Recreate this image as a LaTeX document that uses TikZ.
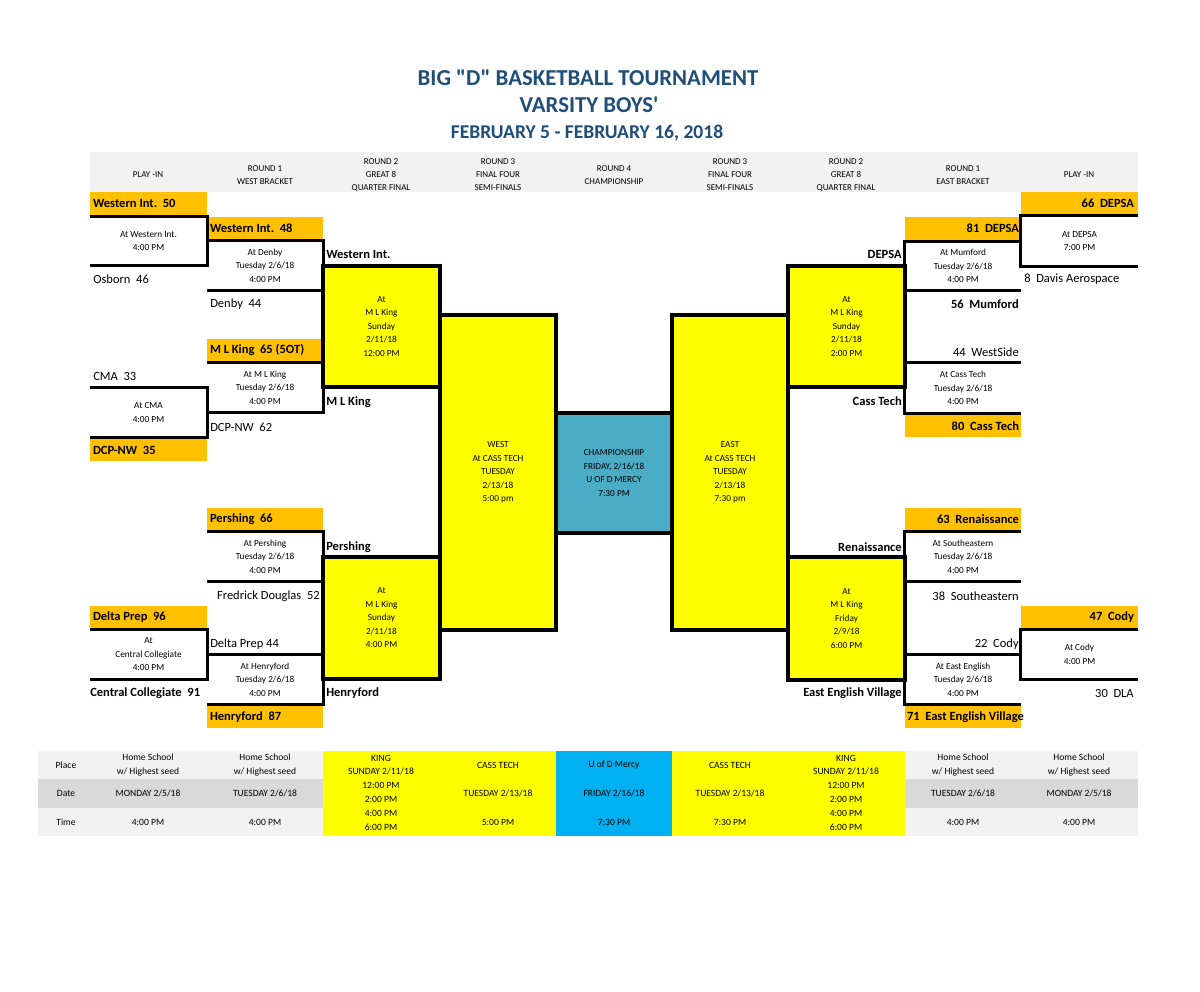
\documentclass[tikz,border=0pt]{standalone}
\usepackage{fontspec}
\setmainfont{Carlito}
\newfontfamily\plainfont{Carlito}
\usetikzlibrary{fit}
\definecolor{orng}{HTML}{FFC000}
\definecolor{ylw}{HTML}{FFFF00}
\definecolor{tealc}{HTML}{4BACC6}
\definecolor{sky}{HTML}{00B0F0}
\definecolor{ttl}{HTML}{1F4E79}
\definecolor{lgray}{HTML}{F2F2F2}
\definecolor{dgray}{HTML}{D9D9D9}
\tikzset{
  ttlone/.style={font=\plainfont\fontsize{16.2}{18}\selectfont\bfseries, text=ttl, inner sep=0pt},
  ttltwo/.style={font=\plainfont\fontsize{13.9}{15}\selectfont\bfseries, text=ttl, inner sep=0pt},
  hd/.style={font=\fontsize{6.4}{9.2}\selectfont, align=center, inner sep=0pt, yshift=-0.05cm},
  sm/.style={font=\fontsize{6.6}{9.6}\selectfont, align=center, inner sep=0pt},
  tb/.style={font=\fontsize{6.8}{9.8}\selectfont, align=center, inner sep=0pt},
  tm/.style={font=\fontsize{8.9}{10}\selectfont, inner sep=0pt},
  tmb/.style={font=\fontsize{8.9}{10}\selectfont\bfseries, inner sep=0pt},
  obox/.style={fill=orng, inner sep=0pt},
  brk/.style={line width=2.2pt},
  area/.style={inner sep=0pt},
  rbox/.style={inner sep=0pt, draw=black, line width=2.2pt},
  ybox/.style={rbox, fill=ylw},
  cell/.style={inner sep=0pt},
}
\begin{document}
\begin{tikzpicture}[x=0.025cm, y=-0.025cm]
\useasboundingbox[fill=white] (0,0) rectangle (1200,991);
% titles
\node[ttlone] (title1) at (588,78) {BIG "D" BASKETBALL TOURNAMENT};
\node[ttlone] (title2) at (589,105) {VARSITY BOYS'};
\node[ttltwo] (title3) at (587,133) {FEBRUARY 5 - FEBRUARY 16, 2018};
% header band
\node[fit={(90,152)(1138,192)}, cell, fill=lgray] (hdr) {};
\node[hd] (h1) at (148,173) {PLAY -IN};
\node[hd] (h2) at (265,173) {ROUND 1\\WEST BRACKET};
\node[hd] (h3) at (381,173) {ROUND 2\\GREAT 8\\QUARTER FINAL};
\node[hd] (h4) at (498,173) {ROUND 3\\FINAL FOUR\\SEMI-FINALS};
\node[hd] (h5) at (614,173) {ROUND 4\\CHAMPIONSHIP};
\node[hd] (h6) at (730,173) {ROUND 3\\FINAL FOUR\\SEMI-FINALS};
\node[hd] (h7) at (846,173) {ROUND 2\\GREAT 8\\QUARTER FINAL};
\node[hd] (h8) at (963,173) {ROUND 1\\EAST BRACKET};
\node[hd] (h9) at (1079,173) {PLAY -IN};

% ---------- orange score boxes ----------
\node[fit={(90,192)(207,215)}, obox] (lo1) {};
\node[tmb, anchor=west] (lo1t) at ([xshift=0.075cm]lo1.west) {Western Int.\ \ 50};
\node[fit={(207,217)(323,240)}, obox] (lo2) {};
\node[tmb, anchor=west] (lo2t) at ([xshift=0.075cm]lo2.west) {Western Int.\ \ 48};
\node[fit={(207,339)(323,361)}, obox] (lo3) {};
\node[tmb, anchor=west] (lo3t) at ([xshift=0.075cm]lo3.west) {M L King\ \ 65 (5OT)};
\node[fit={(90,439)(207,461)}, obox] (lo4) {};
\node[tmb, anchor=west] (lo4t) at ([xshift=0.075cm]lo4.west) {DCP-NW\ \ 35};
\node[fit={(207,508)(323,530)}, obox] (lo5) {};
\node[tmb, anchor=west] (lo5t) at ([xshift=0.075cm]lo5.west) {Pershing\ \ 66};
\node[fit={(90,606)(207,628)}, obox] (lo6) {};
\node[tmb, anchor=west] (lo6t) at ([xshift=0.075cm]lo6.west) {Delta Prep\ \ 96};
\node[fit={(207,706)(323,728)}, obox] (lo7) {};
\node[tmb, anchor=west] (lo7t) at ([xshift=0.075cm]lo7.west) {Henryford\ \ 87};

\node[fit={(1021,192)(1138,215)}, obox] (ro1) {};
\node[tmb, anchor=east] (ro1t) at ([xshift=-0.1cm]ro1.east) {66\ \ DEPSA};
\node[fit={(905,217)(1021,240)}, obox] (ro2) {};
\node[tmb, anchor=east] (ro2t) at ([xshift=-0.05cm]ro2.east) {81\ \ DEPSA};
\node[fit={(905,415)(1021,437)}, obox] (ro3) {};
\node[tmb, anchor=east] (ro3t) at ([xshift=-0.05cm]ro3.east) {80\ \ Cass Tech};
\node[fit={(905,508)(1021,530)}, obox] (ro4) {};
\node[tmb, anchor=east] (ro4t) at ([xshift=-0.05cm]ro4.east) {63\ \ Renaissance};
\node[fit={(1021,606)(1138,628)}, obox] (ro5) {};
\node[tmb, anchor=east] (ro5t) at ([xshift=-0.1cm]ro5.east) {47\ \ Cody};
\node[fit={(905,706)(1021,728)}, obox] (ro6) {};
\node[tmb, anchor=west] (ro6t) at ([xshift=0.05cm]ro6.west) {71\ \ East English Village};

% ---------- left brackets ----------
\node[fit={(90,217)(207,265)}, area] (lp1) {};
\draw[brk] (lp1.north west) -- (lp1.north east) -- (lp1.south east) -- (lp1.south west);
\node[sm] (lp1t) at (lp1.center) {At Western Int.\\4:00 PM};
\node[fit={(207,241)(323,290)}, area] (lb1) {};
\draw[brk] (lb1.north west) -- (lb1.north east) -- (lb1.south east) -- (lb1.south west);
\node[sm] (lb1t) at (lb1.center) {At Denby\\Tuesday 2/6/18\\4:00 PM};
\node[fit={(207,363)(323,412)}, area] (lb2) {};
\draw[brk] (lb2.north west) -- (lb2.north east) -- (lb2.south east) -- (lb2.south west);
\node[sm] (lb2t) at (lb2.center) {At M L King\\Tuesday 2/6/18\\4:00 PM};
\node[fit={(90,388)(207,437)}, area] (lp2) {};
\draw[brk] (lp2.north west) -- (lp2.north east) -- (lp2.south east) -- (lp2.south west);
\node[sm] (lp2t) at (lp2.center) {At CMA\\4:00 PM};
\node[fit={(207,532)(323,581)}, area] (lb3) {};
\draw[brk] (lb3.north west) -- (lb3.north east) -- (lb3.south east) -- (lb3.south west);
\node[sm] (lb3t) at (lb3.center) {At Pershing\\Tuesday 2/6/18\\4:00 PM};
\node[fit={(90,630)(207,679)}, area] (lp3) {};
\draw[brk] (lp3.north west) -- (lp3.north east) -- (lp3.south east) -- (lp3.south west);
\node[sm] (lp3t) at (lp3.center) {At\\Central Collegiate\\4:00 PM};
\node[fit={(207,655)(323,704)}, area] (lb4) {};
\draw[brk] (lb4.north west) -- (lb4.north east) -- (lb4.south east) -- (lb4.south west);
\node[sm] (lb4t) at (lb4.center) {At Henryford\\Tuesday 2/6/18\\4:00 PM};

% ---------- right brackets ----------
\node[fit={(1021,216)(1138,266)}, area] (rp1) {};
\draw[brk] (rp1.north east) -- (rp1.north west) -- (rp1.south west) -- (rp1.south east);
\node[sm] (rp1t) at (rp1.center) {At DEPSA\\7:00 PM};
\node[fit={(905,242)(1021,290)}, area] (rb1) {};
\draw[brk] (rb1.north east) -- (rb1.north west) -- (rb1.south west) -- (rb1.south east);
\node[sm] (rb1t) at (rb1.center) {At Mumford\\Tuesday 2/6/18\\4:00 PM};
\node[fit={(905,363)(1021,413)}, area] (rb2) {};
\draw[brk] (rb2.north east) -- (rb2.north west) -- (rb2.south west) -- (rb2.south east);
\node[sm] (rb2t) at (rb2.center) {At Cass Tech\\Tuesday 2/6/18\\4:00 PM};
\node[fit={(905,532)(1021,581)}, area] (rb3) {};
\draw[brk] (rb3.north east) -- (rb3.north west) -- (rb3.south west) -- (rb3.south east);
\node[sm] (rb3t) at (rb3.center) {At Southeastern\\Tuesday 2/6/18\\4:00 PM};
\node[fit={(1021,630)(1138,679)}, area] (rp2) {};
\draw[brk] (rp2.north east) -- (rp2.north west) -- (rp2.south west) -- (rp2.south east);
\node[sm] (rp2t) at (rp2.center) {At Cody\\4:00 PM};
\node[fit={(905,655)(1021,704)}, area] (rb4) {};
\draw[brk] (rb4.north east) -- (rb4.north west) -- (rb4.south west) -- (rb4.south east);
\node[sm] (rb4t) at (rb4.center) {At East English\\Tuesday 2/6/18\\4:00 PM};

% ---------- yellow boxes ----------
\node[fit={(323,266)(440,387)}, ybox] (ly1) {};
\node[sm] (ly1t) at (ly1.center) {At\\M L King\\Sunday\\2/11/18\\12:00 PM};
\node[fit={(323,557)(440,679)}, ybox] (ly2) {};
\node[sm] (ly2t) at (ly2.center) {At\\M L King\\Sunday\\2/11/18\\4:00 PM};
\node[fit={(788,266)(905,387)}, ybox] (ry1) {};
\node[sm] (ry1t) at (ry1.center) {At\\M L King\\Sunday\\2/11/18\\2:00 PM};
\node[fit={(788,557)(905,680)}, ybox] (ry2) {};
\node[sm] (ry2t) at (ry2.center) {At\\M L King\\Friday\\2/9/18\\6:00 PM};
\node[fit={(440,315)(556,630)}, ybox] (west) {};
\node[sm] (westt) at (west.center) {WEST\\At CASS TECH\\TUESDAY\\2/13/18\\5:00 pm};
\node[fit={(672,315)(788,630)}, ybox] (east) {};
\node[sm] (eastt) at (east.center) {EAST\\At CASS TECH\\TUESDAY\\2/13/18\\7:30 pm};
\node[fit={(556,413)(672,533)}, rbox, fill=tealc] (champ) {};
\node[sm] (champt) at (champ.center) {CHAMPIONSHIP\\FRIDAY, 2/16/18\\U OF D MERCY\\7:30 PM};

% ---------- team labels left ----------
\node[tm, anchor=west] (osb) at (93,279) {Osborn\ \ 46};
\node[tm, anchor=west] (den) at (210,304) {Denby\ \ 44};
\node[tmb, anchor=west] (wiw) at (326,254) {Western Int.};
\node[tmb, anchor=west] (mlk) at (326,402) {M L King};
\node[tm, anchor=west] (cma) at (93,376) {CMA\ \ 33};
\node[tm, anchor=west] (dcp) at (210,427) {DCP-NW\ \ 62};
\node[tmb, anchor=west] (per) at (326,547) {Pershing};
\node[tm, anchor=east] (fre) at (320,596) {Fredrick Douglas\ \ 52};
\node[tm, anchor=west] (dpr) at (210,644) {Delta Prep 44};
\node[tmb, anchor=west] (hen) at (326,693) {Henryford};
\node[tmb, anchor=west] (cen) at (90,693) {Central Collegiate\ \ 91};

% ---------- team labels right ----------
\node[tm, anchor=west] (dav) at (1024,279) {8\ \ Davis Aerospace};
\node[tmb, anchor=east] (dep) at (902,254) {DEPSA};
\node[tmb, anchor=east] (mum) at (1019,304) {56\ \ Mumford};
\node[tm, anchor=east] (wes) at (1019,352) {44\ \ WestSide};
\node[tmb, anchor=east] (cas) at (902,401) {Cass Tech};
\node[tmb, anchor=east] (ren) at (902,547) {Renaissance};
\node[tm, anchor=east] (sou) at (1019,596) {38\ \ Southeastern};
\node[tm, anchor=east] (cod) at (1019,644) {22\ \ Cody};
\node[tmb, anchor=east] (eev) at (902,693) {East English Village};
\node[tm, anchor=east] (dla) at (1134,693) {30\ \ DLA};

% ---------- bottom table ----------
\node[fit={(38,751)(1138,779)}, cell, fill=lgray] (row1) {};
\node[fit={(38,779)(1138,808)}, cell, fill=dgray] (row2) {};
\node[fit={(38,808)(1138,836)}, cell, fill=lgray] (row3) {};
\node[fit={(323,751)(556,836)}, cell, fill=ylw] (yl) {};
\node[fit={(672,751)(905,836)}, cell, fill=ylw] (yr) {};
\node[fit={(556,751)(672,836)}, cell, fill=sky] (bl) {};

\node[tb] (pl) at (66,765) {Place};
\node[tb] (da) at (66,793) {Date};
\node[tb] (ti) at (66,822) {Time};

\node[tb] (p1) at (148,765) {Home School\\w/ Highest seed};
\node[tb] (p2) at (265,765) {Home School\\w/ Highest seed};
\node[tb] (p3) at (381,792.5) {KING\\SUNDAY 2/11/18\\12:00 PM\\2:00 PM\\4:00 PM\\6:00 PM};
\node[tb] (p4) at (498,765) {CASS TECH};
\node[tb] (p5) at (614,765) {U of D Mercy};
\node[tb] (p6) at (730,765) {CASS TECH};
\node[tb] (p7) at (846,792.5) {KING\\SUNDAY 2/11/18\\12:00 PM\\2:00 PM\\4:00 PM\\6:00 PM};
\node[tb] (p8) at (963,765) {Home School\\w/ Highest seed};
\node[tb] (p9) at (1079,765) {Home School\\w/ Highest seed};

\node[tb] (d1) at (148,793) {MONDAY 2/5/18};
\node[tb] (d2) at (265,793) {TUESDAY 2/6/18};
\node[tb] (d4) at (498,793) {TUESDAY 2/13/18};
\node[tb] (d5) at (614,793) {FRIDAY 2/16/18};
\node[tb] (d6) at (730,793) {TUESDAY 2/13/18};
\node[tb] (d8) at (963,793) {TUESDAY 2/6/18};
\node[tb] (d9) at (1079,793) {MONDAY 2/5/18};

\node[tb] (s1) at (148,822) {4:00 PM};
\node[tb] (s2) at (265,822) {4:00 PM};
\node[tb] (s4) at (498,822) {5:00 PM};
\node[tb] (s5) at (614,822) {7:30 PM};
\node[tb] (s6) at (730,822) {7:30 PM};
\node[tb] (s8) at (963,822) {4:00 PM};
\node[tb] (s9) at (1079,822) {4:00 PM};
\end{tikzpicture}
\end{document}
